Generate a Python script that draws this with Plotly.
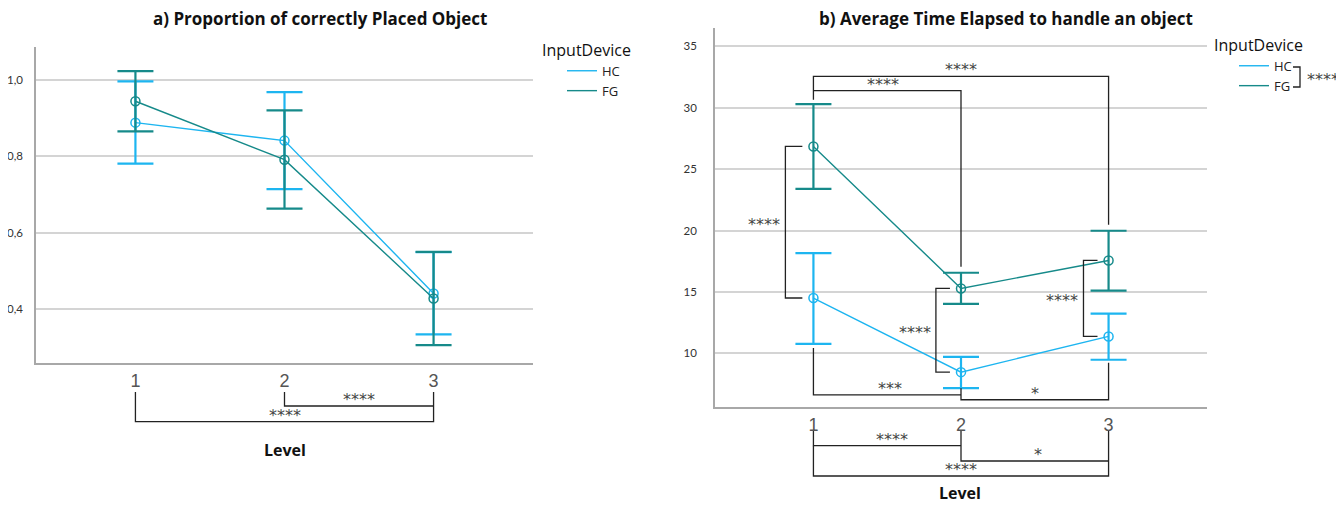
import plotly.graph_objects as go

W, H = 1344, 506
OFF = 8  # page body margin offset of the figure div

levels = [1, 2, 3]
level_labels = ["1", "2", "3"]
devices = ["HC", "FG"]
colors = {"HC": "#1DB5F0", "FG": "#168A8A"}

# a) Proportion of correctly placed object (mean, upper CI, lower CI)
prop_mean = {"HC": [0.888, 0.841, 0.441], "FG": [0.944, 0.791, 0.428]}
prop_hi = {"HC": [0.996, 0.968, 0.549], "FG": [1.023, 0.920, 0.550]}
prop_lo = {"HC": [0.781, 0.714, 0.334], "FG": [0.865, 0.663, 0.306]}

# b) Average time elapsed to handle an object
time_mean = {"HC": [14.50, 8.46, 11.37], "FG": [26.85, 15.28, 17.56]}
time_hi = {"HC": [18.16, 9.71, 13.22], "FG": [30.30, 16.56, 19.98]}
time_lo = {"HC": [10.77, 7.15, 9.47], "FG": [23.40, 14.03, 15.11]}

prop_ticks = [0.4, 0.6, 0.8, 1.0]
time_ticks = [10, 15, 20, 25, 30, 35]


def fx(p):
    return (p - OFF) / W


def fy(p):
    return 1 - (p - OFF) / H


fig = go.Figure()


def add_series(mean, hi, lo, xa, ya, legend):
    for d in devices:
        m = mean[d]
        fig.add_trace(go.Scatter(
            x=levels, y=m, mode="lines", name=d, legend=legend,
            line=dict(color=colors[d], width=1.4), xaxis=xa, yaxis=ya,
            hoverinfo="skip"))
        fig.add_trace(go.Scatter(
            x=levels, y=m, mode="markers", showlegend=False,
            marker=dict(symbol="circle-open", size=9, color=colors[d],
                        line=dict(width=1.5)),
            error_y=dict(type="data", symmetric=False,
                         array=[h - v for h, v in zip(hi[d], m)],
                         arrayminus=[v - l for l, v in zip(lo[d], m)],
                         color=colors[d], thickness=2.2, width=18),
            xaxis=xa, yaxis=ya))


add_series(prop_mean, prop_hi, prop_lo, "x", "y", "legend")
add_series(time_mean, time_hi, time_lo, "x2", "y2", "legend2")

LINE = dict(color="#222", width=1.3)
STAR_FONT = dict(family="DejaVu Sans", size=16, color="#444")
shapes = []
annots = []


def path(points, xref, yref):
    d = "M " + " L ".join(f"{x},{y}" for x, y in points)
    shapes.append(dict(type="path", path=d, xref=xref, yref=yref, line=LINE))


def star(text, x, y, xref, yref, xanchor="center", yanchor="bottom", xshift=0, yshift=0):
    annots.append(dict(text=text, x=x, y=y, xref=xref, yref=yref, showarrow=False,
                       xanchor=xanchor, yanchor=yanchor, font=STAR_FONT,
                       xshift=xshift, yshift=yshift))


# ---- significance brackets, panel b (inside plot) ----
gap = 0.35
top_outer, top_inner = 32.56, 31.39
path([(1, time_hi["FG"][0] + gap), (1, top_outer), (3, top_outer),
      (3, time_hi["FG"][2] + gap * 1.4)], "x2", "y2")
path([(1, top_inner), (2, top_inner), (2, time_hi["FG"][1] + gap * 1.4)], "x2", "y2")
star("****", 2.0, top_outer, "x2", "y2", yshift=-5)
star("****", 1.47, top_inner, "x2", "y2", yshift=-5)

bot_a, bot_b = 6.61, 6.21
path([(1, time_lo["HC"][0] - gap), (1, bot_a), (2, bot_a)], "x2", "y2")
path([(2, time_lo["HC"][1]), (2, bot_b), (3, bot_b), (3, time_lo["HC"][2] - gap * 0.7)], "x2", "y2")
star("***", 1.52, bot_a, "x2", "y2", yshift=-5)
star("*", 2.50, bot_b, "x2", "y2", yshift=-5)

# between-device brackets at each level
for i, lv in enumerate(levels):
    xb = lv - (0.19 if i == 0 else 0.17)
    xt = lv - 0.075
    top = time_mean["FG"][i]
    bot = time_mean["HC"][i]
    path([(xt, top), (xb, top), (xb, bot), (xt, bot)], "x2", "y2")
    star("****", xb, (top + bot) / 2, "x2", "y2", xanchor="right", yanchor="middle", xshift=-3, yshift=-2)

# ---- brackets below axes (paper y) ----
# panel a
path([(2, fy(392)), (2, fy(406)), (3, fy(406))], "x", "paper")
path([(1, fy(392)), (1, fy(421.7)), (3, fy(421.7)), (3, fy(392))], "x", "paper")
star("****", 2.5, fy(406), "x", "paper", yshift=-5)
star("****", 2.0, fy(421.7), "x", "paper", yshift=-5)

# panel b
path([(1, fy(431)), (1, fy(445.7)), (2, fy(445.7))], "x2", "paper")
path([(2, fy(431)), (2, fy(461)), (3, fy(461))], "x2", "paper")
path([(1, fy(445.7)), (1, fy(476)), (3, fy(476)), (3, fy(431))], "x2", "paper")
star("****", 1.53, fy(445.7), "x2", "paper", yshift=-5)
star("*", 2.52, fy(461), "x2", "paper", yshift=-5)
star("****", 2.0, fy(476), "x2", "paper", yshift=-5)

# legend bracket for panel b
path([(fx(1293), fy(67)), (fx(1300), fy(67)), (fx(1300), fy(87)), (fx(1293), fy(87))], "paper", "paper")
star("****", fx(1305), fy(77), "paper", "paper", xanchor="left", yanchor="middle", yshift=-2)

# titles
TITLE_FONT = dict(family="Open Sans", size=17, color="#111")
annots.append(dict(text="<b>a) Proportion of correctly Placed Object</b>", x=fx(320), y=fy(19),
                   xref="paper", yref="paper", xanchor="center", yanchor="middle",
                   showarrow=False, font=TITLE_FONT))
annots.append(dict(text="<b>b) Average Time Elapsed to handle an object</b>", x=fx(1006), y=fy(19),
                   xref="paper", yref="paper", xanchor="center", yanchor="middle",
                   showarrow=False, font=TITLE_FONT))
LEVEL_FONT = dict(family="Open Sans", size=16, color="#111")
annots.append(dict(text="<b>Level</b>", x=fx(285), y=fy(450), xref="paper", yref="paper",
                   xanchor="center", yanchor="middle", showarrow=False, font=LEVEL_FONT))
annots.append(dict(text="<b>Level</b>", x=fx(960), y=fy(493), xref="paper", yref="paper",
                   xanchor="center", yanchor="middle", showarrow=False, font=LEVEL_FONT))

AX_LINE = "#a8a8a8"
GRID = "#d4d4d4"
xcommon = dict(range=[0.333, 3.667], tickvals=levels, ticktext=level_labels, showgrid=False,
               zeroline=False, showline=True, linecolor=AX_LINE, linewidth=1.5,
               tickfont=dict(family="Liberation Sans", size=18, color="#555"),
               ticklabelstandoff=1, fixedrange=True)
ycommon = dict(showgrid=True, gridcolor=GRID, gridwidth=1.5, zeroline=False, showline=True,
               linecolor=AX_LINE, linewidth=1.5,
               tickfont=dict(family="Lato", size=11.5, color="#333"), fixedrange=True)

leg_common = dict(font=dict(family="Open Sans", size=13, color="#222"),
                  title=dict(font=dict(family="Open Sans", size=16, color="#111")),
                  bgcolor="rgba(0,0,0,0)", tracegroupgap=0, itemwidth=30,
                  xanchor="left", yanchor="top", indentation=22)

fig.update_layout(
    width=W, height=H, margin=dict(l=0, r=0, t=0, b=0, autoexpand=False),
    paper_bgcolor="white", plot_bgcolor="white", separators=",.",
    xaxis=dict(domain=[fx(36), fx(533)], anchor="y", **xcommon),
    yaxis=dict(domain=[fy(363), fy(47)], anchor="x", range=[0.259, 1.086],
               tickvals=prop_ticks, tickformat=".1f", ticklabelstandoff=9, **ycommon),
    xaxis2=dict(domain=[fx(715), fx(1207)], anchor="y2", **xcommon),
    yaxis2=dict(domain=[fy(407), fy(28)], anchor="x2", range=[5.62, 36.5],
                tickvals=time_ticks, ticklabelstandoff=14, **ycommon),
    legend=dict(x=fx(540), y=fy(35), title_text="InputDevice", **leg_common),
    legend2=dict(x=fx(1212), y=fy(30), title_text="InputDevice", **leg_common),
    shapes=shapes, annotations=annots, showlegend=True,
)

fig.write_html("out.html")
